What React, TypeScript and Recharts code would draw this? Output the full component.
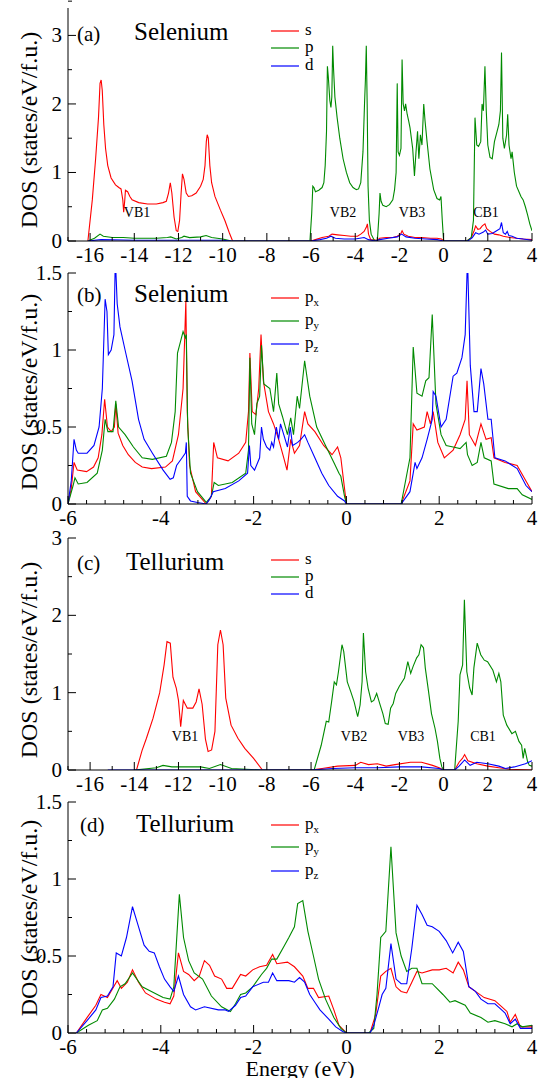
import { LineChart, Line, XAxis, YAxis } from "recharts";

type Pt = [number, number];

const W = 538;
const RED = "#ff0000";
const GREEN = "#008a00";
const BLUE = "#0000ff";
const FONT = '"Liberation Serif", "Times New Roman", serif';

const X_MAJOR_WIDE = [-16, -14, -12, -10, -8, -6, -4, -2, 0, 2, 4];
const X_MAJOR_NARROW = [-6, -4, -2, 0, 2, 4];
const Y_MAJOR_3 = [0, 1, 2, 3];
const Y_MAJOR_15 = [0, 0.5, 1, 1.5];

// (a) Selenium s / p / d
const seS: Pt[] = [
  [-16.1, 0], [-15.9, 0.6], [-15.75, 1.2], [-15.62, 1.8], [-15.55, 2.3], [-15.5, 2.35], [-15.45, 2.2], [-15.38, 1.7],
  [-15.3, 1.35], [-15.2, 1.1], [-15.05, 0.92], [-14.85, 0.82], [-14.7, 0.78], [-14.6, 0.76], [-14.52, 0.6], [-14.48, 0.42],
  [-14.43, 0.6], [-14.4, 0.74], [-14.3, 0.72], [-14.2, 0.65], [-14.1, 0.6], [-13.8, 0.56], [-13.4, 0.54], [-13.0, 0.54],
  [-12.7, 0.56], [-12.55, 0.58], [-12.45, 0.7], [-12.37, 0.85], [-12.3, 0.7], [-12.2, 0.35], [-12.1, 0.15], [-12.03, 0.14],
  [-11.95, 0.3], [-11.88, 0.7], [-11.82, 0.98], [-11.75, 0.9], [-11.65, 0.7], [-11.55, 0.65], [-11.4, 0.66], [-11.2, 0.7],
  [-11.0, 0.8], [-10.88, 0.9], [-10.8, 1.1], [-10.74, 1.45], [-10.7, 1.55], [-10.65, 1.5], [-10.58, 1.1], [-10.5, 0.85],
  [-10.35, 0.65], [-10.1, 0.45], [-9.9, 0.3], [-9.7, 0.12], [-9.55, 0],
  [-6.0, 0], [-5.8, 0.02], [-5.5, 0.05], [-5.2, 0.07], [-5.05, 0.1], [-4.8, 0.09], [-4.5, 0.08], [-4.2, 0.07], [-3.9, 0.07],
  [-3.75, 0.1], [-3.6, 0.14], [-3.5, 0.2], [-3.45, 0.25], [-3.4, 0.1], [-3.3, 0.02], [-3.0, 0.01], [-2.9, 0.04], [-2.6, 0.05],
  [-2.3, 0.05], [-2.1, 0.07], [-1.95, 0.1], [-1.88, 0.15], [-1.8, 0.1], [-1.6, 0.07], [-1.3, 0.05], [-1.0, 0.05], [-0.6, 0.04],
  [-0.3, 0.04], [-0.1, 0.03], [0, 0],
  [1.05, 0], [1.25, 0.05], [1.38, 0.15], [1.45, 0.22], [1.55, 0.17], [1.65, 0.18], [1.75, 0.22], [1.87, 0.25], [1.95, 0.18],
  [2.1, 0.14], [2.3, 0.1], [2.5, 0.09], [2.7, 0.07], [3.0, 0.05], [3.3, 0.04], [3.6, 0.03], [4, 0.02],
];
const seP: Pt[] = [
  [-16.1, 0], [-15.8, 0.04], [-15.55, 0.1], [-15.4, 0.07], [-15.0, 0.05], [-14.5, 0.05], [-14.0, 0.04], [-13.0, 0.04],
  [-12.5, 0.05], [-12.35, 0.06], [-12.1, 0.03], [-11.85, 0.05], [-11.75, 0.07], [-11.5, 0.05], [-11.0, 0.06], [-10.75, 0.08],
  [-10.5, 0.05], [-10.0, 0.03], [-9.6, 0],
  [-6.05, 0], [-5.97, 0.4], [-5.92, 0.8], [-5.87, 0.78], [-5.8, 0.72], [-5.65, 0.74], [-5.5, 0.78], [-5.42, 0.85], [-5.36, 1.1],
  [-5.3, 1.6], [-5.26, 2.55], [-5.22, 2.4], [-5.15, 2.05], [-5.1, 1.95], [-5.06, 2.1], [-5.02, 2.85], [-4.98, 2.5], [-4.92, 2.1],
  [-4.82, 1.8], [-4.7, 1.5], [-4.55, 1.2], [-4.4, 1.0], [-4.25, 0.85], [-4.1, 0.78], [-3.95, 0.75], [-3.85, 0.76], [-3.75, 0.85],
  [-3.65, 1.3], [-3.58, 2.0], [-3.54, 2.35], [-3.5, 2.85], [-3.46, 2.0], [-3.42, 0.8], [-3.36, 0.3], [-3.28, 0.1], [-3.12, 0],
  [-3.0, 0], [-2.92, 0.4], [-2.88, 0.7], [-2.83, 0.58], [-2.75, 0.52], [-2.6, 0.5], [-2.45, 0.53], [-2.3, 0.6], [-2.22, 0.75],
  [-2.15, 1.0], [-2.1, 2.3], [-2.06, 1.3], [-2.0, 1.25], [-1.93, 1.35], [-1.88, 2.65], [-1.83, 2.0], [-1.77, 1.9], [-1.72, 2.0],
  [-1.65, 1.85], [-1.58, 1.75], [-1.52, 1.65], [-1.46, 1.5], [-1.4, 1.35], [-1.32, 0.95], [-1.25, 1.3], [-1.18, 1.6],
  [-1.12, 1.2], [-1.05, 1.55], [-0.98, 1.4], [-0.9, 2.0], [-0.84, 1.75], [-0.75, 1.45], [-0.62, 1.05], [-0.45, 0.75],
  [-0.3, 0.62], [-0.18, 0.6], [-0.12, 0.65], [-0.06, 0.3], [0, 0],
  [1.05, 0], [1.25, 0.05], [1.35, 0.3], [1.42, 1.8], [1.5, 1.4], [1.58, 1.38], [1.68, 1.45], [1.74, 2.0], [1.8, 1.9],
  [1.87, 2.55], [1.93, 1.9], [2.0, 1.4], [2.1, 1.22], [2.2, 1.2], [2.3, 1.45], [2.42, 1.6], [2.5, 1.7], [2.57, 1.9],
  [2.62, 2.75], [2.68, 1.5], [2.75, 1.35], [2.85, 1.55], [2.9, 1.85], [2.96, 1.4], [3.05, 1.2], [3.1, 1.3], [3.2, 1.0],
  [3.3, 0.8], [3.5, 0.65], [3.6, 0.6], [3.7, 0.5], [3.8, 0.38], [3.9, 0.25], [4, 0.15],
];
const seD: Pt[] = [
  [-16.1, 0], [-15.5, 0.02], [-14, 0.01], [-12, 0.01], [-10, 0.01], [-9.6, 0], [-6, 0], [-5.6, 0.02], [-5.3, 0.04],
  [-5.1, 0.07], [-4.9, 0.04], [-4.5, 0.03], [-4, 0.03], [-3.6, 0.05], [-3.4, 0.02], [-3.1, 0], [-2.9, 0.02], [-2.5, 0.04],
  [-2.1, 0.06], [-1.9, 0.1], [-1.7, 0.06], [-1.3, 0.04], [-0.8, 0.03], [-0.3, 0.02], [0, 0], [1.1, 0], [1.3, 0.05],
  [1.45, 0.12], [1.6, 0.1], [1.8, 0.13], [1.9, 0.16], [2.0, 0.1], [2.2, 0.11], [2.4, 0.15], [2.55, 0.18], [2.62, 0.27],
  [2.7, 0.12], [2.8, 0.1], [2.88, 0.14], [2.95, 0.08], [3.1, 0.07], [3.3, 0.04], [3.6, 0.03], [4, 0.01],
];

// (b) Selenium px / py / pz
const sePx: Pt[] = [
  [-6, 0], [-5.93, 0.1], [-5.87, 0.27], [-5.8, 0.22], [-5.6, 0.21], [-5.45, 0.24], [-5.35, 0.3], [-5.27, 0.45], [-5.21, 0.68],
  [-5.15, 0.5], [-5.07, 0.47], [-5.0, 0.5], [-4.97, 0.65], [-4.92, 0.46], [-4.82, 0.38], [-4.7, 0.32], [-4.55, 0.27],
  [-4.4, 0.24], [-4.2, 0.23], [-3.9, 0.24], [-3.75, 0.28], [-3.62, 0.45], [-3.52, 0.75], [-3.46, 1.32], [-3.43, 0.6],
  [-3.38, 0.25], [-3.25, 0.08], [-3.02, 0], [-2.91, 0.05], [-2.86, 0.4], [-2.78, 0.3], [-2.55, 0.28], [-2.32, 0.33],
  [-2.17, 0.4], [-2.11, 0.6], [-2.08, 0.98], [-2.03, 0.6], [-1.95, 0.58], [-1.89, 0.75], [-1.84, 1.1], [-1.79, 0.8],
  [-1.68, 0.6], [-1.57, 0.52], [-1.46, 0.42], [-1.35, 0.3], [-1.28, 0.22], [-1.2, 0.42], [-1.12, 0.33], [-1.01, 0.38],
  [-0.9, 0.6], [-0.83, 0.52], [-0.68, 0.47], [-0.49, 0.38], [-0.31, 0.32], [-0.19, 0.37], [-0.12, 0.3], [-0.04, 0.1], [0, 0],
  [1.18, 0], [1.37, 0.15], [1.44, 0.52], [1.52, 0.48], [1.68, 0.5], [1.74, 0.6], [1.81, 0.52], [1.87, 0.6], [1.97, 0.4],
  [2.11, 0.3], [2.3, 0.35], [2.45, 0.45], [2.56, 0.55], [2.6, 0.8], [2.65, 0.45], [2.78, 0.38], [2.9, 0.52], [3.01, 0.42],
  [3.12, 0.43], [3.18, 0.3], [3.42, 0.27], [3.68, 0.25], [3.87, 0.15], [4, 0.08],
];
const sePy: Pt[] = [
  [-6, 0], [-5.89, 0.12], [-5.85, 0.17], [-5.78, 0.13], [-5.59, 0.14], [-5.37, 0.2], [-5.26, 0.35], [-5.2, 0.55], [-5.14, 0.47],
  [-5.03, 0.47], [-4.97, 0.67], [-4.91, 0.5], [-4.77, 0.45], [-4.59, 0.37], [-4.4, 0.3], [-4.18, 0.29], [-3.88, 0.31],
  [-3.77, 0.4], [-3.69, 0.6], [-3.64, 0.98], [-3.58, 1.05], [-3.52, 1.12], [-3.47, 1.08], [-3.45, 1.1], [-3.42, 0.5],
  [-3.36, 0.2], [-3.21, 0.08], [-3.02, 0.01], [-2.91, 0.05], [-2.85, 0.14], [-2.76, 0.12], [-2.46, 0.14], [-2.17, 0.2],
  [-2.11, 0.35], [-2.08, 0.95], [-2.04, 0.52], [-1.98, 0.45], [-1.93, 0.65], [-1.87, 0.7], [-1.83, 1.03], [-1.78, 0.78],
  [-1.65, 0.75], [-1.57, 0.6], [-1.5, 0.85], [-1.46, 0.65], [-1.38, 0.57], [-1.27, 0.45], [-1.2, 0.56], [-1.14, 0.45],
  [-1.06, 0.7], [-1.01, 0.62], [-0.9, 0.93], [-0.79, 0.7], [-0.64, 0.5], [-0.45, 0.38], [-0.27, 0.27], [-0.16, 0.2],
  [-0.12, 0.18], [-0.04, 0.05], [0, 0],
  [1.18, 0], [1.37, 0.3], [1.44, 1.02], [1.52, 0.72], [1.63, 0.7], [1.71, 0.8], [1.78, 0.82], [1.85, 1.23], [1.93, 0.65],
  [2.04, 0.45], [2.15, 0.38], [2.3, 0.37], [2.45, 0.36], [2.58, 0.4], [2.61, 0.32], [2.71, 0.25], [2.82, 0.27], [2.9, 0.4],
  [2.97, 0.3], [3.12, 0.28], [3.18, 0.13], [3.49, 0.1], [3.68, 0.1], [3.79, 0.06], [4, 0.03],
];
const sePz: Pt[] = [
  [-6, 0], [-5.93, 0.15], [-5.87, 0.42], [-5.82, 0.35], [-5.78, 0.33], [-5.59, 0.33], [-5.44, 0.38], [-5.33, 0.5],
  [-5.26, 0.75], [-5.2, 1.33], [-5.16, 1.25], [-5.13, 0.97], [-5.07, 1.0], [-5.01, 1.1], [-4.98, 1.6], [-4.94, 1.3],
  [-4.88, 1.15], [-4.77, 1.0], [-4.62, 0.8], [-4.48, 0.55], [-4.36, 0.42], [-4.18, 0.33], [-3.95, 0.22], [-3.8, 0.16],
  [-3.73, 0.17], [-3.66, 0.25], [-3.54, 0.3], [-3.47, 0.33], [-3.45, 0.4], [-3.43, 0.05], [-3.36, 0.02], [-3.21, 0.01],
  [-3.02, 0], [-2.95, 0.03], [-2.87, 0.08], [-2.61, 0.1], [-2.32, 0.15], [-2.13, 0.2], [-2.09, 0.38], [-2.06, 0.25],
  [-1.98, 0.22], [-1.87, 0.3], [-1.83, 0.5], [-1.79, 0.42], [-1.72, 0.37], [-1.65, 0.35], [-1.61, 0.4], [-1.57, 0.37],
  [-1.51, 0.5], [-1.46, 0.42], [-1.42, 0.52], [-1.35, 0.45], [-1.27, 0.37], [-1.21, 0.5], [-1.16, 0.38], [-1.05, 0.4],
  [-0.98, 0.42], [-0.9, 0.45], [-0.83, 0.4], [-0.68, 0.3], [-0.53, 0.2], [-0.38, 0.12], [-0.19, 0.05], [-0.04, 0.02], [0, 0],
  [1.18, 0], [1.37, 0.08], [1.44, 0.2], [1.48, 0.27], [1.52, 0.23], [1.63, 0.3], [1.74, 0.42], [1.85, 0.55], [1.87, 0.73],
  [1.93, 0.7], [2.04, 0.5], [2.15, 0.55], [2.3, 0.83], [2.38, 0.85], [2.49, 0.95], [2.56, 1.1], [2.61, 1.6], [2.67, 0.9],
  [2.75, 0.6], [2.82, 0.6], [2.9, 0.88], [2.96, 0.78], [3.05, 0.55], [3.12, 0.55], [3.2, 0.3], [3.42, 0.28], [3.68, 0.23],
  [3.87, 0.12], [4, 0.08],
];

// (c) Tellurium s / p / d
const teS: Pt[] = [
  [-13.9, 0], [-13.65, 0.25], [-13.45, 0.41], [-13.15, 0.67], [-12.85, 1.0], [-12.65, 1.36], [-12.52, 1.66], [-12.37, 1.64],
  [-12.25, 1.2], [-12.1, 1.06], [-12.0, 0.9], [-11.9, 0.56], [-11.78, 0.9], [-11.6, 0.8], [-11.35, 0.8], [-11.2, 0.88],
  [-11.07, 1.05], [-10.93, 0.85], [-10.78, 0.4], [-10.66, 0.24], [-10.5, 0.26], [-10.35, 0.5], [-10.22, 1.62], [-10.1, 1.81],
  [-9.98, 1.62], [-9.86, 0.93], [-9.62, 0.58], [-9.31, 0.41], [-9.0, 0.28], [-8.6, 0.15], [-8.2, 0],
  [-6, 0], [-5.5, 0.02], [-4.8, 0.05], [-4.0, 0.06], [-3.75, 0.1], [-3.4, 0.07], [-3.0, 0.08], [-2.6, 0.05], [-2.2, 0.07],
  [-1.5, 0.1], [-1.0, 0.1], [-0.5, 0.06], [-0.2, 0.03], [0, 0],
  [0.5, 0], [0.7, 0.1], [0.85, 0.15], [0.95, 0.2], [1.1, 0.12], [1.5, 0.08], [2.0, 0.05], [2.5, 0.03], [3.0, 0.01], [4, 0],
];
const teP: Pt[] = [
  [-14, 0], [-13, 0.03], [-12.7, 0.06], [-12.3, 0.04], [-11.5, 0.04], [-11, 0.04], [-10.6, 0.02], [-10.1, 0.07], [-9.6, 0.02],
  [-8.2, 0],
  [-5.86, 0], [-5.54, 0.32], [-5.31, 0.63], [-5.2, 0.62], [-5.07, 0.88], [-4.95, 1.14], [-4.85, 1.1], [-4.76, 1.27],
  [-4.6, 1.62], [-4.52, 1.53], [-4.36, 1.14], [-4.2, 1.01], [-4.05, 0.88], [-3.89, 0.69], [-3.78, 0.84], [-3.69, 1.14],
  [-3.63, 1.77], [-3.53, 1.27], [-3.42, 1.06], [-3.27, 0.88], [-3.16, 0.9], [-3.03, 0.99], [-2.87, 0.84], [-2.75, 0.73],
  [-2.64, 0.6], [-2.51, 0.59], [-2.4, 0.8], [-2.28, 0.86], [-2.17, 0.99], [-2.01, 1.08], [-1.77, 1.19], [-1.62, 1.4],
  [-1.49, 1.25], [-1.38, 1.34], [-1.22, 1.45], [-1.12, 1.49], [-1.02, 1.62], [-0.91, 1.58], [-0.83, 1.32], [-0.68, 1.01],
  [-0.55, 0.73], [-0.39, 0.54], [-0.28, 0.37], [-0.17, 0.15], [-0.08, 0.04], [0, 0],
  [0.5, 0], [0.66, 0.63], [0.74, 1.23], [0.86, 1.36], [0.94, 2.2], [1.05, 1.27], [1.18, 1.06], [1.29, 0.97], [1.37, 1.32],
  [1.52, 1.64], [1.68, 1.49], [1.84, 1.42], [1.99, 1.4], [2.23, 1.29], [2.39, 1.14], [2.5, 1.25], [2.59, 1.14], [2.7, 0.71],
  [2.86, 0.58], [3.09, 0.47], [3.25, 0.5], [3.41, 0.37], [3.53, 0.32], [3.6, 0.15], [3.67, 0.28], [3.8, 0.11], [3.88, 0.06],
  [4, 0.05],
];
const teD: Pt[] = [
  [-15.2, 0], [-6, 0], [-5, 0.02], [-4, 0.03], [-3, 0.03], [-2, 0.04], [-1, 0.04], [-0.2, 0.02], [0, 0], [0.5, 0],
  [0.7, 0.05], [0.95, 0.13], [1.2, 0.06], [1.5, 0.1], [2, 0.08], [2.5, 0.05], [2.8, 0.02], [3.2, 0.04], [3.7, 0.08], [4, 0.12],
];

// (d) Tellurium px / py / pz
const tePx: Pt[] = [
  [-5.82, 0], [-5.59, 0.1], [-5.4, 0.18], [-5.29, 0.25], [-5.15, 0.23], [-4.94, 0.34], [-4.85, 0.29], [-4.72, 0.33],
  [-4.61, 0.41], [-4.48, 0.33], [-4.33, 0.26], [-4.1, 0.22], [-3.92, 0.2], [-3.8, 0.19], [-3.72, 0.24], [-3.62, 0.52],
  [-3.51, 0.4], [-3.4, 0.38], [-3.28, 0.34], [-3.17, 0.37], [-3.06, 0.47], [-2.95, 0.44], [-2.84, 0.37], [-2.69, 0.35],
  [-2.58, 0.29], [-2.46, 0.29], [-2.28, 0.38], [-2.17, 0.37], [-2.02, 0.41], [-1.87, 0.43], [-1.72, 0.44], [-1.59, 0.51],
  [-1.5, 0.45], [-1.27, 0.46], [-1.12, 0.43], [-0.94, 0.37], [-0.83, 0.29], [-0.71, 0.29], [-0.6, 0.23], [-0.38, 0.24],
  [-0.27, 0.15], [-0.16, 0.05], [0, 0],
  [0.51, 0], [0.63, 0.12], [0.74, 0.37], [0.85, 0.4], [0.96, 0.42], [1.07, 0.3], [1.18, 0.27], [1.3, 0.26], [1.41, 0.33],
  [1.52, 0.4], [1.63, 0.39], [1.85, 0.41], [2.0, 0.41], [2.15, 0.42], [2.3, 0.39], [2.41, 0.46], [2.52, 0.41], [2.64, 0.3],
  [2.78, 0.27], [2.97, 0.23], [3.2, 0.21], [3.35, 0.17], [3.46, 0.14], [3.53, 0.07], [3.64, 0.12], [3.75, 0.04], [4, 0.04],
];
const tePy: Pt[] = [
  [-5.82, 0], [-5.56, 0.05], [-5.37, 0.08], [-5.26, 0.15], [-5.15, 0.16], [-5.0, 0.22], [-4.88, 0.3], [-4.77, 0.32],
  [-4.61, 0.39], [-4.4, 0.3], [-4.14, 0.26], [-3.95, 0.23], [-3.8, 0.22], [-3.72, 0.3], [-3.6, 0.9], [-3.51, 0.62],
  [-3.4, 0.47], [-3.28, 0.39], [-3.1, 0.35], [-2.91, 0.24], [-2.69, 0.17], [-2.5, 0.14], [-2.39, 0.19], [-2.28, 0.25],
  [-2.17, 0.26], [-2.02, 0.3], [-1.83, 0.38], [-1.72, 0.42], [-1.61, 0.48], [-1.5, 0.48], [-1.35, 0.56], [-1.24, 0.62],
  [-1.12, 0.69], [-1.05, 0.84], [-0.94, 0.86], [-0.83, 0.66], [-0.71, 0.5], [-0.6, 0.35], [-0.45, 0.22], [-0.27, 0.1],
  [-0.12, 0.03], [0, 0],
  [0.48, 0], [0.59, 0.03], [0.66, 0.25], [0.74, 0.62], [0.85, 0.66], [0.96, 1.21], [1.07, 0.65], [1.18, 0.5], [1.3, 0.4],
  [1.41, 0.42], [1.52, 0.42], [1.63, 0.32], [1.85, 0.32], [2.08, 0.25], [2.23, 0.2], [2.34, 0.21], [2.56, 0.18],
  [2.67, 0.13], [2.9, 0.1], [3.05, 0.07], [3.2, 0.08], [3.42, 0.06], [3.57, 0.04], [3.68, 0.06], [3.79, 0.04], [4, 0.05],
];
const tePz: Pt[] = [
  [-5.82, 0], [-5.59, 0.08], [-5.4, 0.15], [-5.29, 0.23], [-5.15, 0.24], [-5.03, 0.3], [-4.96, 0.52], [-4.85, 0.5],
  [-4.74, 0.62], [-4.61, 0.82], [-4.51, 0.72], [-4.36, 0.57], [-4.25, 0.53], [-4.14, 0.52], [-4.03, 0.43], [-3.92, 0.35],
  [-3.8, 0.3], [-3.72, 0.27], [-3.62, 0.37], [-3.51, 0.25], [-3.36, 0.17], [-3.25, 0.15], [-3.06, 0.17], [-2.76, 0.15],
  [-2.61, 0.15], [-2.54, 0.14], [-2.39, 0.18], [-2.28, 0.23], [-2.17, 0.24], [-2.02, 0.3], [-1.79, 0.33], [-1.68, 0.33],
  [-1.59, 0.39], [-1.5, 0.34], [-1.24, 0.34], [-1.12, 0.33], [-1.01, 0.36], [-0.9, 0.33], [-0.79, 0.25], [-0.68, 0.2],
  [-0.57, 0.15], [-0.38, 0.09], [-0.23, 0.04], [-0.08, 0.01], [0, 0],
  [0.51, 0], [0.59, 0.05], [0.7, 0.17], [0.77, 0.25], [0.85, 0.29], [0.96, 0.58], [1.07, 0.35], [1.18, 0.32], [1.3, 0.32],
  [1.41, 0.55], [1.52, 0.83], [1.63, 0.77], [1.74, 0.7], [1.85, 0.69], [2.0, 0.66], [2.15, 0.6], [2.29, 0.52], [2.41, 0.59],
  [2.52, 0.53], [2.64, 0.3], [2.78, 0.27], [2.9, 0.22], [3.05, 0.19], [3.2, 0.19], [3.31, 0.16], [3.42, 0.13], [3.53, 0.06],
  [3.64, 0.09], [3.75, 0.03], [4, 0.03],
];

const toRows = (pts: Pt[]) => pts.map(([x, y]) => ({ x, y }));

// minor tick positions between the labelled ones
function minorTicks(from: number, to: number, step: number, majors: number[]) {
  const out: number[] = [];
  const n = Math.round((to - from) / step);
  for (let i = 0; i <= n; i++) {
    const v = Math.round((from + i * step) * 1000) / 1000;
    if (!majors.some((m) => Math.abs(m - v) < 1e-6)) out.push(v);
  }
  return out;
}

const isMajor = (v: number, majors: number[]) => majors.some((m) => Math.abs(m - v) < 1e-6);

function xTick(majors: number[], side: "bottom" | "top") {
  return (p: any) => {
    const v = p.payload.value;
    const major = isMajor(v, majors);
    const d = side === "bottom" ? -1 : 1;
    return (
      <g>
        <line x1={p.x} x2={p.x} y1={p.y} y2={p.y + d * (major ? 8 : 4)} stroke="#000" />
        {major && side === "bottom" && (
          <text x={p.x} y={p.y + 21} textAnchor="middle" fontSize={21} fontFamily={FONT} fill="#000">
            {v}
          </text>
        )}
      </g>
    );
  };
}

function yTick(majors: number[], side: "left" | "right") {
  return (p: any) => {
    const v = p.payload.value;
    const major = isMajor(v, majors);
    const d = side === "left" ? 1 : -1;
    return (
      <g>
        <line x1={p.x} x2={p.x + d * (major ? 8 : 4)} y1={p.y} y2={p.y} stroke="#000" />
        {major && side === "left" && (
          <text x={p.x - 6} y={p.y + 7} textAnchor="end" fontSize={21} fontFamily={FONT} fill="#000">
            {v}
          </text>
        )}
      </g>
    );
  };
}

interface PanelProps {
  plotTop: number;
  plotBottom: number;
  xDomain: [number, number];
  xMajor: number[];
  xMinorStep: number;
  yDomain: [number, number];
  yMajor: number[];
  yMinorStep: number;
  series: { pts: Pt[]; color: string }[];
}

function Panel({ plotTop, plotBottom, xDomain, xMajor, xMinorStep, yDomain, yMajor, yMinorStep, series }: PanelProps) {
  const mt = 14;
  const xh = 30;
  const height = plotBottom - plotTop + mt + xh;
  const xTicks = [...xMajor, ...minorTicks(xDomain[0], xDomain[1], xMinorStep, xMajor)].sort((a, b) => a - b);
  const yTicks = [...yMajor, ...minorTicks(yDomain[0], yDomain[1], yMinorStep, yMajor)].sort((a, b) => a - b);
  const axisLine = { stroke: "#000", strokeWidth: 1 };

  return (
    <div style={{ position: "absolute", left: 0, top: plotTop - mt }}>
      <LineChart width={W} height={height} margin={{ top: mt, right: 6, bottom: 0, left: 0 }}>
        <XAxis xAxisId="b" orientation="bottom" type="number" dataKey="x" domain={xDomain} allowDataOverflow
          ticks={xTicks} interval={0} height={xh} tickSize={0} tickMargin={0} tickLine={false}
          axisLine={axisLine} tick={xTick(xMajor, "bottom")} />
        <XAxis xAxisId="t" orientation="top" type="number" dataKey="x" domain={xDomain} allowDataOverflow
          ticks={xTicks} interval={0} height={0} tickSize={0} tickMargin={0} tickLine={false}
          axisLine={axisLine} tick={xTick(xMajor, "top")} />
        <YAxis yAxisId="l" orientation="left" type="number" domain={yDomain} allowDataOverflow
          ticks={yTicks} interval={0} width={68} tickSize={0} tickMargin={0} tickLine={false}
          axisLine={axisLine} tick={yTick(yMajor, "left")} />
        <YAxis yAxisId="r" orientation="right" type="number" domain={yDomain} allowDataOverflow
          ticks={yTicks} interval={0} width={0} tickSize={0} tickMargin={0} tickLine={false}
          axisLine={axisLine} tick={yTick(yMajor, "right")} />
        {series.map((s, i) => (
          <Line key={i} xAxisId="b" yAxisId="l" data={toRows(s.pts)} dataKey="y" type="linear"
            stroke={s.color} strokeWidth={1.1} dot={false} isAnimationActive={false} />
        ))}
      </LineChart>
    </div>
  );
}

function LegendRow({ y, color, label, sub }: { y: number; color: string; label: string; sub?: string }) {
  return (
    <g>
      <line x1={271} x2={299} y1={y} y2={y} stroke={color} strokeWidth={1.2} />
      <text x={305} y={y + 4} fontSize={17} fontFamily={FONT} fill="#000">
        {label}
        {sub && <tspan fontSize={11} dy={4}>{sub}</tspan>}
      </text>
    </g>
  );
}

function Annotations() {
  const t = { fontFamily: FONT, fill: "#000" };
  const band = { ...t, fontSize: 14, textAnchor: "middle" as const };
  return (
    <svg width={W} height={1078} style={{ position: "absolute", left: 0, top: 0, pointerEvents: "none" }}>
      {/* y labels */}
      {[130, 392, 660, 918].map((cy) => (
        <text key={cy} {...t} fontSize={24} textAnchor="middle" transform={`translate(37, ${cy}) rotate(-90)`}>
          DOS (states/eV/f.u.)
        </text>
      ))}
      <text {...t} fontSize={22} x={300} y={1076} textAnchor="middle">Energy (eV)</text>

      {/* (a) */}
      <text {...t} fontSize={21} x={77} y={41}>(a)</text>
      <text {...t} fontSize={25} x={134} y={40}>Selenium</text>
      <LegendRow y={31} color={RED} label="s" />
      <LegendRow y={48} color={GREEN} label="p" />
      <LegendRow y={66} color={BLUE} label="d" />
      <text {...band} x={137} y={217}>VB1</text>
      <text {...band} x={343} y={217}>VB2</text>
      <text {...band} x={412} y={217}>VB3</text>
      <text {...band} x={486} y={217}>CB1</text>

      {/* (b) */}
      <text {...t} fontSize={21} x={77} y={302}>(b)</text>
      <text {...t} fontSize={25} x={134} y={302}>Selenium</text>
      <LegendRow y={298} color={RED} label="p" sub="x" />
      <LegendRow y={321} color={GREEN} label="p" sub="y" />
      <LegendRow y={344} color={BLUE} label="p" sub="z" />

      {/* (c) */}
      <text {...t} fontSize={21} x={77} y={570}>(c)</text>
      <text {...t} fontSize={25} x={126} y={570}>Tellurium</text>
      <LegendRow y={560} color={RED} label="s" />
      <LegendRow y={577} color={GREEN} label="p" />
      <LegendRow y={594} color={BLUE} label="d" />
      <text {...band} x={185} y={741}>VB1</text>
      <text {...band} x={354} y={741}>VB2</text>
      <text {...band} x={411} y={741}>VB3</text>
      <text {...band} x={483} y={741}>CB1</text>

      {/* (d) */}
      <text {...t} fontSize={21} x={80} y={832}>(d)</text>
      <text {...t} fontSize={25} x={136} y={832}>Tellurium</text>
      <LegendRow y={825} color={RED} label="p" sub="x" />
      <LegendRow y={847} color={GREEN} label="p" sub="y" />
      <LegendRow y={871} color={BLUE} label="p" sub="z" />
    </svg>
  );
}

export default function App() {
  return (
    <div style={{ position: "absolute", left: 0, top: 0, width: W, height: 1078, background: "#fff" }}>
      <Panel plotTop={8} plotBottom={241} xDomain={[-17, 4]} xMajor={X_MAJOR_WIDE} xMinorStep={1}
        yDomain={[0, 3.4]} yMajor={Y_MAJOR_3} yMinorStep={0.5}
        series={[{ pts: seS, color: RED }, { pts: seP, color: GREEN }, { pts: seD, color: BLUE }]} />
      <Panel plotTop={273} plotBottom={504} xDomain={[-6, 4]} xMajor={X_MAJOR_NARROW} xMinorStep={0.4}
        yDomain={[0, 1.5]} yMajor={Y_MAJOR_15} yMinorStep={0.25}
        series={[{ pts: sePx, color: RED }, { pts: sePy, color: GREEN }, { pts: sePz, color: BLUE }]} />
      <Panel plotTop={538} plotBottom={770} xDomain={[-17, 4]} xMajor={X_MAJOR_WIDE} xMinorStep={1}
        yDomain={[0, 3]} yMajor={Y_MAJOR_3} yMinorStep={0.5}
        series={[{ pts: teS, color: RED }, { pts: teP, color: GREEN }, { pts: teD, color: BLUE }]} />
      <Panel plotTop={802} plotBottom={1033} xDomain={[-6, 4]} xMajor={X_MAJOR_NARROW} xMinorStep={0.4}
        yDomain={[0, 1.5]} yMajor={Y_MAJOR_15} yMinorStep={0.25}
        series={[{ pts: tePx, color: RED }, { pts: tePy, color: GREEN }, { pts: tePz, color: BLUE }]} />
      <Annotations />
    </div>
  );
}
